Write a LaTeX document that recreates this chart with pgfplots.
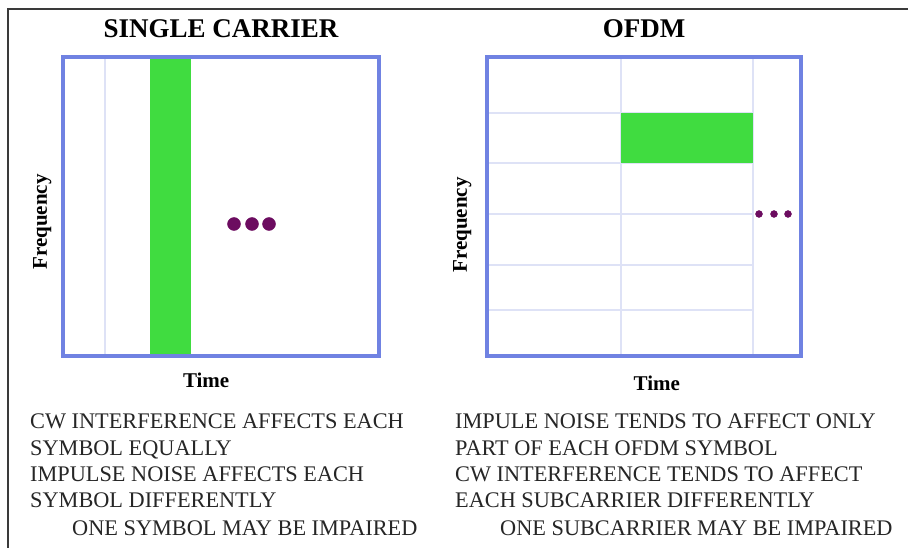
\documentclass[border=0pt]{standalone}
\usepackage{pgfplots}
\pgfplotsset{compat=1.18}
\usepackage{fontspec}
\setmainfont{Liberation Serif}

\definecolor{boxblue}{RGB}{112,130,226}
\definecolor{gridblue}{RGB}{222,226,246}
\definecolor{hitgreen}{RGB}{64,220,64}
\definecolor{dotpurple}{RGB}{108,12,96}
\definecolor{framegray}{RGB}{58,58,58}

\pgfplotsset{
  tfgrid/.style={
    scale only axis, axis on top, clip=false,
    ticks=none,
    axis line style={draw=boxblue, line width=4pt},
    ymin=-356, ymax=-57,
    title style={font=\fontsize{27}{30}\selectfont\bfseries, anchor=base, yshift=13pt},
    every axis x label/.append style={font=\fontsize{21}{24}\selectfont\bfseries, anchor=base},
    every axis y label/.append style={font=\fontsize{21}{24}\selectfont\bfseries, anchor=base},
  },
  gridline/.style={draw=gridblue, line width=1.2pt, forget plot},
}

\begin{document}
\begin{tikzpicture}
\useasboundingbox (0pt,0pt) rectangle (908pt,-548pt);
\fill[white] (0pt,0pt) rectangle (908pt,-548pt);
\draw[framegray, line width=2.2pt] (8pt,-548pt) -- (8pt,-9pt) -- (908pt,-9pt);

% single carrier
\begin{axis}[tfgrid,
  at={(63pt,-356pt)}, anchor=south west,
  width=316pt, height=299pt,
  xmin=63, xmax=379,
  title={SINGLE CARRIER},
  xlabel={Time}, ylabel={Frequency},
  xlabel style={at={(axis description cs:0.453,-0.104)}},
  ylabel style={at={(axis description cs:-0.051,0.448)}},
]
\addplot[gridline] coordinates {(105,-57) (105,-356)};
\addplot[fill=hitgreen, draw=none] coordinates {(150,-57) (191,-57) (191,-356) (150,-356)} -- cycle;
\addplot[only marks, mark=*, mark size=6.5pt, color=dotpurple] coordinates {(234,-224) (252,-224) (269,-224)};
\end{axis}

% OFDM
\begin{axis}[tfgrid,
  at={(487pt,-356pt)}, anchor=south west,
  width=314pt, height=299pt,
  xmin=487, xmax=801,
  title={OFDM},
  xlabel={Time}, ylabel={Frequency},
  xlabel style={at={(axis description cs:0.541,-0.114)}},
  ylabel style={at={(axis description cs:-0.064,0.438)}},
]
\addplot[gridline] coordinates {(621,-57) (621,-356)};
\addplot[gridline] coordinates {(753,-57) (753,-356)};
\addplot[gridline] coordinates {(487,-113) (753,-113)};
\addplot[gridline] coordinates {(487,-163) (753,-163)};
\addplot[gridline] coordinates {(487,-214) (753,-214)};
\addplot[gridline] coordinates {(487,-265) (753,-265)};
\addplot[gridline] coordinates {(487,-310) (753,-310)};
\addplot[fill=hitgreen, draw=none] coordinates {(621,-113) (753,-113) (753,-163) (621,-163)} -- cycle;
\addplot[only marks, mark=*, mark size=3.5pt, color=dotpurple] coordinates {(759,-214) (774,-214) (788,-214)};
\end{axis}

% notes under the charts
\begin{scope}[every node/.style={anchor=base west, inner sep=0pt, font=\fontsize{22.3}{26}\selectfont, text=black!85}]
\node at (30pt,-428pt) {CW INTERFERENCE AFFECTS EACH};
\node at (30pt,-455pt) {SYMBOL EQUALLY};
\node at (30pt,-481pt) {IMPULSE NOISE AFFECTS EACH};
\node at (30pt,-507pt) {SYMBOL DIFFERENTLY};
\node at (72pt,-535pt) {ONE SYMBOL MAY BE IMPAIRED};
\node at (455pt,-428pt) {IMPULE NOISE TENDS TO AFFECT ONLY};
\node at (455pt,-455pt) {PART OF EACH OFDM SYMBOL};
\node at (455pt,-481pt) {CW INTERFERENCE TENDS TO AFFECT};
\node at (455pt,-507pt) {EACH SUBCARRIER DIFFERENTLY};
\node at (500pt,-535pt) {ONE SUBCARRIER MAY BE IMPAIRED};
\end{scope}
\end{tikzpicture}
\end{document}
